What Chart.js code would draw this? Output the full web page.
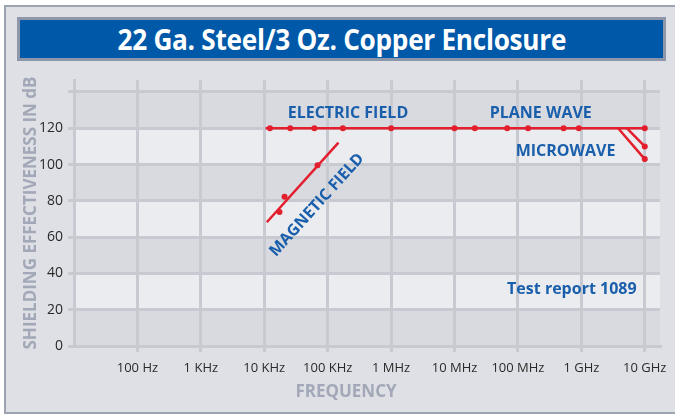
<!DOCTYPE html>
<html>
<head>
<meta charset="utf-8">
<script src="https://cdn.jsdelivr.net/npm/chart.js@4.4.1/dist/chart.umd.min.js"></script>
<style>
    html, body { margin: 0; padding: 0; background: #fff; }
    #page { position: relative; width: 675px; height: 415px; overflow: hidden; }
    #panel {
        position: absolute; left: 4px; top: 5px; right: 0; bottom: 1px;
        background: #dfe0e5;
        border-left: 2px solid #9ca3b1;
        border-top: 2px solid #9ca3b1;
        border-bottom: 2px solid #9ca3b1;
    }
    #banner {
        position: absolute; left: 17px; top: 17px; width: 643px; height: 38px;
        background: #0058a8; border: 3px solid #8e97a9;
        color: #fff; text-align: center; line-height: 38px;
        font: bold 28px "Open Sans", sans-serif;
        white-space: nowrap;
    }
    #banner span { display: inline-block; transform-origin: center; letter-spacing: -0.3px; }
    #chart { position: absolute; left: 0; top: 0; }
</style>
</head>
<body>
<div id="page">
    <div id="panel"></div>
    <div id="banner"><span id="titleText">22 Ga. Steel/3 Oz. Copper Enclosure</span></div>
    <canvas id="chart" width="675" height="415"></canvas>
</div>
<script>
/* x values are log10(frequency in Hz) */
const xTickValues = [2, 3, 4, 5, 6, 7, 8, 9, 10];
const xTickLabels = ["100 Hz", "1 KHz", "10 KHz", "100 KHz", "1 MHz", "10 MHz", "100 MHz", "1 GHz", "10 GHz"];
const yTickValues = [0, 20, 40, 60, 80, 100, 120, 140];
const yTickLabels = ["0", "20", "40", "60", "80", "100", "120", ""];

const electricLineX = [4.02, 10];
const electricLineDb = [120, 120];
const electricX = [4.09, 4.41, 4.79, 5.24, 6.0, 7.0, 7.32, 7.83, 8.16, 8.72, 8.96, 10];
const electricDb = [120, 120, 120, 120, 120, 120, 120, 120, 120, 120, 120, 120];

const magneticLineX = [4.04, 5.17];
const magneticLineDb = [68.2, 112.1];
const magneticX = [4.24, 4.32, 4.84];
const magneticDb = [73.9, 82.3, 99.6];

const microwaveAX = [9.58, 10];
const microwaveADb = [120, 103];
const microwaveBX = [9.72, 10];
const microwaveBDb = [120, 110];

const RED = "#e31e2d";
const BLUE = "#1a5fab";
const GRID = "#c8cad2";
const AXIS_TITLE = "#a2a8b7";

const toPoints = (xs, ys) => xs.map((x, i) => ({ x: x, y: ys[i] }));

/* squeeze the title to the condensed width of the original */
const titleText = document.getElementById("titleText");
titleText.style.transform = "scaleX(" + (449 / titleText.offsetWidth) + ")";

/* text notes, anchored in data units */
const notes = [
    { text: "ELECTRIC FIELD", x: 5.32, y: 128.4, angle: 0 },
    { text: "PLANE WAVE", x: 8.36, y: 128.4, angle: 0 },
    { text: "MICROWAVE", x: 8.75, y: 107.1, angle: 0 },
    { text: "MAGNETIC FIELD", x: 4.83, y: 77.7, angle: -48 },
    { text: "Test report 1089", x: 8.85, y: 31.1, angle: 0 }
];

const bandsPlugin = {
    id: "bands",
    beforeDraw(chart) {
        const { ctx, chartArea, scales: { y } } = chart;
        ctx.save();
        for (let i = 0; i < yTickValues.length - 1; i++) {
            const top = y.getPixelForValue(yTickValues[i + 1]);
            const bottom = y.getPixelForValue(yTickValues[i]);
            ctx.fillStyle = i % 2 === 0 ? "#d9dadf" : "#ebecef";
            ctx.fillRect(chartArea.left, top, chartArea.right - chartArea.left, bottom - top);
        }
        ctx.restore();
    }
};

const notesPlugin = {
    id: "notes",
    afterDatasetsDraw(chart) {
        const { ctx, scales: { x, y } } = chart;
        ctx.save();
        ctx.fillStyle = BLUE;
        ctx.font = "bold 16px 'Open Sans'";
        ctx.textAlign = "center";
        ctx.textBaseline = "middle";
        notes.forEach(n => {
            ctx.save();
            ctx.translate(x.getPixelForValue(n.x), y.getPixelForValue(n.y));
            ctx.rotate(n.angle * Math.PI / 180);
            ctx.fillText(n.text, 0, 0);
            ctx.restore();
        });

        /* x axis title */
        ctx.fillStyle = AXIS_TITLE;
        ctx.font = "bold 17px 'Open Sans'";
        ctx.fillText("FREQUENCY", 346, 392);
        ctx.restore();
    }
};

new Chart(document.getElementById("chart"), {
    type: "scatter",
    data: {
        datasets: [
            {
                data: toPoints(electricLineX, electricLineDb),
                showLine: true,
                borderColor: RED,
                borderWidth: 2.5,
                pointRadius: 0
            },
            {
                data: toPoints(electricX, electricDb),
                backgroundColor: RED,
                borderWidth: 0,
                pointRadius: 3
            },
            {
                data: toPoints(magneticLineX, magneticLineDb),
                showLine: true,
                borderColor: RED,
                borderWidth: 2.5,
                pointRadius: 0
            },
            {
                data: toPoints(magneticX, magneticDb),
                backgroundColor: RED,
                borderWidth: 0,
                pointRadius: 3
            },
            {
                data: toPoints(microwaveAX, microwaveADb),
                showLine: true,
                borderColor: RED,
                backgroundColor: RED,
                borderWidth: 2.5,
                pointBorderWidth: 0,
                pointRadius: (c) => c.dataIndex === 1 ? 3 : 0
            },
            {
                data: toPoints(microwaveBX, microwaveBDb),
                showLine: true,
                borderColor: RED,
                backgroundColor: RED,
                borderWidth: 2.5,
                pointBorderWidth: 0,
                pointRadius: (c) => c.dataIndex === 1 ? 3 : 0
            }
        ]
    },
    options: {
        responsive: false,
        animation: false,
        layout: {
            padding: { top: 80, right: 15, left: 0, bottom: 0 }
        },
        plugins: {
            legend: { display: false },
            tooltip: { enabled: false }
        },
        scales: {
            x: {
                type: "linear",
                min: 1,
                max: 10.24,
                afterBuildTicks: (scale) => {
                    scale.ticks = xTickValues.map(v => ({ value: v }));
                },
                afterFit: (scale) => { scale.height = 69; },
                ticks: {
                    color: "#2a2a2a",
                    padding: 8,
                    maxRotation: 0,
                    font: { family: "Open Sans", size: 13 },
                    callback: (value) => xTickLabels[xTickValues.indexOf(value)]
                },
                grid: { color: GRID, lineWidth: 3, tickLength: 6, tickColor: GRID },
                border: { display: true, color: GRID, width: 3 }
            },
            y: {
                min: 0,
                max: 146.6,
                afterBuildTicks: (scale) => {
                    scale.ticks = yTickValues.map(v => ({ value: v }));
                },
                afterFit: (scale) => { scale.width = 74; },
                ticks: {
                    color: "#2a2a2a",
                    padding: 5,
                    font: { family: "Open Sans", size: 14 },
                    callback: (value) => yTickLabels[yTickValues.indexOf(value)]
                },
                grid: { color: GRID, lineWidth: 3, tickLength: 6, tickColor: GRID },
                border: { display: true, color: GRID, width: 3 },
                title: {
                    display: true,
                    text: "SHIELDING EFFECTIVENESS IN dB",
                    color: AXIS_TITLE,
                    font: { family: "Open Sans", size: 17, weight: "bold" },
                    padding: { top: 21, bottom: 0 }
                }
            }
        }
    },
    plugins: [bandsPlugin, notesPlugin]
});
</script>
</body>
</html>
